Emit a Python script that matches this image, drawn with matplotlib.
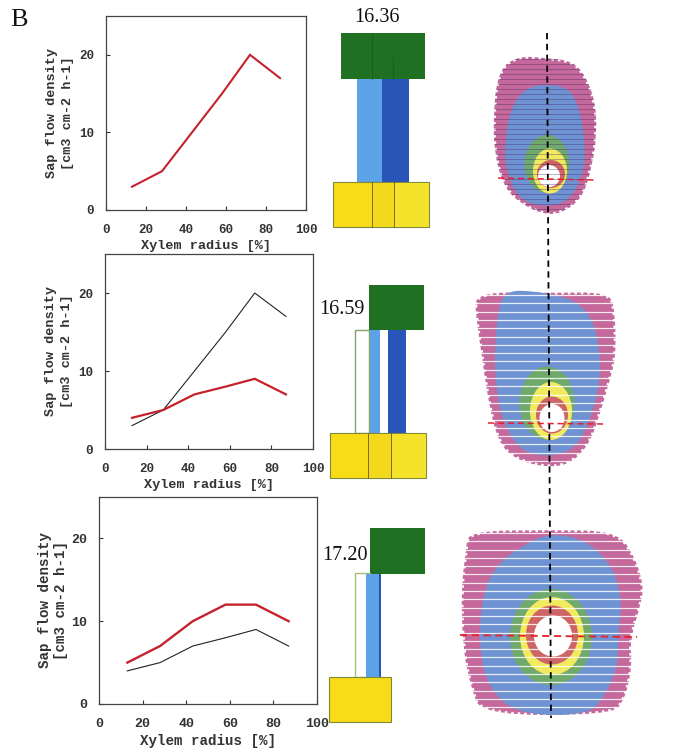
import numpy as np
import matplotlib
matplotlib.use('Agg')
import matplotlib.pyplot as plt
from matplotlib.patches import Rectangle, Ellipse, PathPatch
from matplotlib.path import Path

W, H = 673, 751

# === chart data ===
radius = [13, 28, 43, 58, 72, 87]
flow_a = [3, 5, 10, 15, 20, 17]
flow_b = [4, 5, 7, 8, 9, 7]
flow_c = [5, 7, 10, 12, 12, 10]
x_ticks = [0, 20, 40, 60, 80, 100]
y_ticks = [0, 10, 20]

# axes boxes in pixels: left, right, top, bottom
box_a = (106, 306, 16, 210)
box_b = (105, 313, 254, 449)
box_c = (99, 317, 497, 704)

times = ['16.36', '16.59', '17.20']

# === heat map outlines, in pixels ===
pink_a = [(517, 56), (547, 58), (572, 61), (585, 75), (595, 100), (597, 133), (592, 167), (582, 199),
          (560, 214), (543, 214), (523, 205), (505, 189), (495, 157), (493, 117), (498, 71)]
blue_a = [(547, 84), (569, 88), (579, 107), (585, 140), (584, 173), (569, 202), (543, 207), (518, 199),
          (505, 167), (505, 140), (511, 107), (525, 88)]
pink_b = [(475, 292), (550, 293), (609, 292), (615, 310), (616, 357), (609, 383), (599, 417), (589, 445),
          (569, 465), (543, 467), (515, 459), (498, 442), (488, 400), (481, 350), (476, 317)]
blue_b = [(505, 292), (527, 290), (572, 298), (592, 317), (600, 350), (600, 383), (589, 423), (575, 449),
          (550, 457), (521, 452), (503, 423), (495, 383), (495, 343), (498, 310)]
pink_c = [(468, 531), (550, 530), (617, 531), (635, 557), (644, 587), (640, 607), (630, 640), (632, 667),
          (625, 699), (612, 715), (481, 715), (471, 687), (463, 650), (461, 590), (466, 550)]
blue_c = [(550, 533), (587, 540), (613, 567), (622, 600), (618, 633), (618, 667), (603, 699), (587, 715),
          (523, 715), (493, 695), (480, 660), (480, 607), (493, 567), (523, 545)]

# rings: x, y, w, h for green, yellow, red, white
rings_a = [(547, 164, 45, 58), (550, 171, 34, 45), (551, 174, 28, 28), (549, 176, 22, 22)]
rings_b = [(547, 403, 55, 73), (551, 411, 42, 58), (552, 415, 32, 37), (552, 418, 25, 28)]
rings_c = [(551, 637, 82, 96), (552, 636, 64, 78), (552, 635, 52, 59), (553, 636, 38, 41)]
ring_colors = ['#6fa96b', '#f2ea5e', '#cf6467', 'white']

PINK = '#c5689c'
BLUE = '#6e92d2'
GREEN = '#1f7022'
LIGHT = '#5ba3e6'
DARK = '#2a55b8'
YELLOW = '#f9dc18'
MID = '#f3d81c'
PALE = '#f4e32a'
EDGE = '#7d8a3c'

plt.rcParams['font.family'] = ['Liberation Mono', 'DejaVu Sans']
fig = plt.figure(figsize=(W / 100, H / 100), dpi=100)

# full figure axes in pixel coordinates for the schematics and the heat maps
bg = fig.add_axes([0, 0, 1, 1])
bg.set_xlim(0, W)
bg.set_ylim(H, 0)
bg.axis('off')


def rect(x0, x1, y0, y1, color, edge='none', lw=0.0):
    bg.add_patch(Rectangle((x0, y0), x1 - x0, y1 - y0, facecolor=color, edgecolor=edge, linewidth=lw))


def blob(pts, color, frayed=False):
    # closed smooth shape, quadratic curves through the midpoints
    pts = np.array(pts, dtype=float)
    mids = (pts + np.roll(pts, -1, axis=0)) / 2
    verts = [mids[-1]]
    codes = [Path.MOVETO]
    for p, m in zip(pts, mids):
        verts += [p, m]
        codes += [Path.CURVE3, Path.CURVE3]
    patch = PathPatch(Path(verts, codes), facecolor=color, edgecolor='none')
    bg.add_patch(patch)
    if frayed:
        # white dashed edge makes the outer rim look torn like the scan lines
        bg.add_patch(PathPatch(Path(verts, codes), facecolor='none', edgecolor='white', linewidth=2.6,
                               linestyle=(0, (0.7, 1.1))))
    return patch


def heatmap(pink, blue, rings, stripe_color, stripe_step, stripe_lw, stripe_alpha):
    outer = blob(pink, PINK, frayed=True)
    blob(blue, BLUE)
    for (x, y, w, h), c in zip(rings, ring_colors):
        bg.add_patch(Ellipse((x, y), w, h, facecolor=c, edgecolor='none'))
    xs = [p[0] for p in pink]
    ys = [p[1] for p in pink]
    for y in np.arange(min(ys) + 3, max(ys), stripe_step):
        line, = bg.plot([min(xs) - 3, max(xs) + 3], [y, y], color=stripe_color, lw=stripe_lw, alpha=stripe_alpha)
        if stripe_color != 'white':
            line.set_clip_path(outer)


# === top schematic ===
rect(341, 425, 33, 79, GREEN)
rect(357, 382, 79, 182, LIGHT)
rect(382, 409, 79, 182, DARK)
rect(333, 429, 182, 227, YELLOW, EDGE, 0.8)
rect(372, 394, 183, 227, MID)
rect(394, 429, 183, 227, PALE)
bg.plot([372, 372], [182, 227], color='#6b5a20', lw=0.6)
bg.plot([394, 394], [182, 227], color='#6b5a20', lw=0.6)
bg.plot([372, 372], [33, 79], color='#155a18', lw=0.5)
bg.plot([393, 393], [58, 79], color='#155a18', lw=0.5)

# === middle schematic ===
rect(369, 424, 285, 330, GREEN)
rect(355, 369, 330, 433, 'white', '#7fa36a', 1.0)
rect(370, 380, 330, 433, LIGHT)
rect(388, 406, 330, 433, DARK)
rect(330, 426, 433, 478, YELLOW, EDGE, 0.8)
rect(368, 391, 434, 478, MID)
rect(391, 426, 434, 478, PALE)
bg.plot([368, 368], [433, 478], color='#6b5a20', lw=0.6)
bg.plot([391, 391], [433, 478], color='#6b5a20', lw=0.6)

# === bottom schematic ===
rect(370, 425, 528, 574, GREEN)
rect(355, 370, 573, 677, 'white', '#a3bd78', 1.0)
rect(366, 379, 574, 677, LIGHT)
rect(379, 381, 574, 677, DARK)
rect(329, 391, 677, 722, YELLOW, EDGE, 0.8)

# === heat maps ===
heatmap(pink_a, blue_a, rings_a, '#3a1a60', 5, 0.7, 0.35)
heatmap(pink_b, blue_b, rings_b, 'white', 8.3, 0.9, 0.85)
heatmap(pink_c, blue_c, rings_c, 'white', 8.3, 0.9, 0.85)

# long centre line and the red cross lines
bg.plot([547, 551], [33, 718], color='black', lw=1.3, dashes=(3.5, 2.5))
bg.plot([498, 595], [178, 180], color='#e8202a', lw=1.1, dashes=(4, 2.5))
bg.plot([488, 603], [423, 424], color='#e8202a', lw=1.1, dashes=(4, 2.5))
bg.plot([460, 637], [635, 637], color='#e8202a', lw=1.3, dashes=(4, 2.5))

# === labels in serif ===
serif = ['Liberation Serif', 'DejaVu Serif']
bg.text(10, 20, 'B', family=serif, fontsize=19, ha='left', va='center', color='#111111')
bg.text(377, 18, times[0], family=serif, fontsize=14.5, ha='center', va='center', color='#111111')
bg.text(342, 310, times[1], family=serif, fontsize=14.5, ha='center', va='center', color='#111111')
bg.text(345, 555, times[2], family=serif, fontsize=14.5, ha='center', va='center', color='#111111')


# === line charts ===
def chart(box, series, fs, ylab_pad=4, ylab_space=1.45):
    left, right, top, bottom = box
    ax = fig.add_axes([left / W, 1 - bottom / H, (right - left) / W, (bottom - top) / H])
    ax.patch.set_alpha(0)
    for y, c, lw in series:
        ax.plot(radius, y, color=c, lw=lw, solid_joinstyle='miter')
    ax.set_xlim(0, 100)
    ax.set_ylim(0, 25)
    ax.set_xticks(x_ticks)
    ax.set_yticks(y_ticks)
    ax.tick_params(direction='in', length=3, width=0.8, color='#333333', labelsize=fs)
    ax.tick_params(axis='x', pad=10)
    ax.tick_params(axis='y', pad=8.5)
    for lab in ax.get_xticklabels() + ax.get_yticklabels():
        lab.set_fontweight('bold')
        lab.set_color('#333333')
    for s in ax.spines.values():
        s.set_color('#444444')
        s.set_linewidth(0.9)
    ax.set_xlabel('Xylem radius [%]', fontsize=fs + 0.7, fontweight='bold', color='#333333', labelpad=3)
    ax.set_ylabel('Sap flow density\n[cm3 cm-2 h-1]', fontsize=fs + 0.7, fontweight='bold', color='#333333',
                  labelpad=ylab_pad, linespacing=ylab_space)
    return ax


chart(box_a, [(flow_a, '#c4222c', 1.5)], 9)
chart(box_b, [(flow_a, '#222222', 0.8), (flow_b, '#c4222c', 1.6)], 9)
chart(box_c, [(flow_b, '#222222', 0.8), (flow_c, '#c4222c', 1.7)], 9.5, ylab_pad=2, ylab_space=1.25)

fig.savefig('out.png', dpi=100)
